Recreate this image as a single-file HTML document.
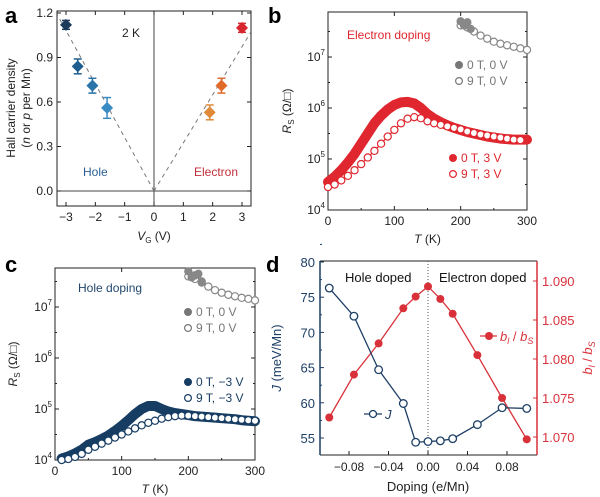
<!DOCTYPE html>
<html><head><meta charset="utf-8"><style>
body{margin:0;background:#fff}
svg{display:block;font-family:"Liberation Sans",sans-serif}
</style></head><body>
<svg id="fig" width="600" height="497" viewBox="0 0 600 497"></svg>
<script>
// ---- panel a data ----
const aVg=[-3,-2.6,-2.1,-1.6,1.9,2.3,3];
const aDens=[1.12,0.84,0.71,0.56,0.53,0.71,1.10];
const aErr=[0.03,0.05,0.05,0.07,0.05,0.05,0.03];
const aColors=['#1b3a5c','#1f5d8e','#2a74aa','#3a8ac4','#e08a3a','#e06a2a','#d8262e'];
const aTicksX=[-3,-2,-1,0,1,2,3];
const aTicksY=[0,0.3,0.6,0.9,1.2];
// ---- panel b data ----
const bT=[0,10,20,30,40,50,60,70,80,90,100,110,120,130,140,150,160,170,180,190,200,210,220,230,240,250,260,270,280,290,300];
const bFilled=[4.55,4.65,4.78,4.93,5.1,5.3,5.5,5.7,5.85,5.97,6.06,6.11,6.12,6.09,6.0,5.88,5.79,5.72,5.66,5.61,5.57,5.53,5.5,5.47,5.44,5.42,5.4,5.39,5.38,5.38,5.38];
const bOpenT=[0,10,20,30,40,50,60,70,80,90,100,110,120,130,140,150,160,170,180,190,200,210,220,230,240,250,260,270,280,290];
const bOpen=[4.45,4.5,4.58,4.67,4.78,4.9,5.03,5.16,5.3,5.44,5.57,5.7,5.79,5.82,5.8,5.74,5.7,5.67,5.64,5.61,5.58,5.54,5.51,5.48,5.46,5.44,5.42,5.4,5.38,5.37];
const bGreyT=[200,210,220,230,240,250,260,270,280,290,300];
const bGreyOpen=[7.62,7.58,7.5,7.42,7.36,7.3,7.26,7.23,7.2,7.17,7.14];
const bGreyFT=[200,205,210,215];
const bGreyFilled=[7.7,7.62,7.68,7.55];
// ---- panel c data ----
const cT=[10,20,30,40,50,60,70,80,90,100,110,120,130,140,150,160,170,180,190,200,210,220,230,240,250,260,270,280,290,300];
const cFilled=[4.03,4.07,4.13,4.2,4.3,4.35,4.41,4.48,4.57,4.67,4.78,4.9,5.0,5.06,5.06,5.0,4.95,4.92,4.9,4.88,4.86,4.85,4.84,4.83,4.82,4.81,4.8,4.78,4.77,4.76];
const cOpen=[4.0,4.02,4.06,4.12,4.2,4.26,4.32,4.38,4.44,4.5,4.56,4.62,4.68,4.73,4.77,4.81,4.84,4.86,4.87,4.87,4.86,4.85,4.84,4.83,4.82,4.81,4.8,4.79,4.78,4.77];
const cGreyT=[200,210,220,230,240,250,260,270,280,290,300];
const cGreyOpen=[7.6,7.55,7.48,7.4,7.33,7.28,7.24,7.21,7.18,7.16,7.13];
const cGreyFT=[200,205,210,215,220];
const cGreyFilled=[7.7,7.58,7.62,7.65,7.5];
// ---- panel d data ----
const dDoping=[-0.1,-0.075,-0.05,-0.025,-0.0125,0,0.0125,0.025,0.05,0.075,0.1];
const dJ=[76.3,72.3,64.7,59.9,54.4,54.5,54.6,54.9,56.9,59.3,59.2];
const dB=[1.0725,1.078,1.082,1.0865,1.088,1.0893,1.0877,1.0858,1.0805,1.075,1.0697];
const dTicksX=[-0.08,-0.04,0,0.04,0.08];
const dTicksJ=[55,60,65,70,75,80];
const dTicksB=[1.070,1.075,1.080,1.085,1.090];

const S=document.getElementById('fig');
const NS='http://www.w3.org/2000/svg';
function mk(tag,at,parent){const e=document.createElementNS(NS,tag);for(const k in at)e.setAttribute(k,at[k]);(parent||S).appendChild(e);return e;}
function txt(x,y,s,at){const e=mk('text',Object.assign({x:x,y:y,'font-size':12,fill:'#222'},at||{}));e.textContent=s;return e;}
function lin(d0,d1,r0,r1){return v=>r0+(v-d0)*(r1-r0)/(d1-d0);}

// ================= Panel a =================
{
const L=57,R=251,T=11,B=206;
const x=lin(0,3,154,242), y=lin(0,1.2,191,13);
let e=txt(5,23,'a',{'font-size':22,'font-weight':'bold',fill:'#000'});

e=mk('rect',{x:L,y:T,width:R-L,height:B-T,fill:'none',stroke:'#222','stroke-width':1});

mk('line',{x1:L,x2:R,y1:y(0),y2:y(0),stroke:'#444','stroke-width':1});
mk('line',{x1:x(0),x2:x(0),y1:T,y2:B,stroke:'#444','stroke-width':1});
mk('line',{x1:x(0),y1:y(0),x2:x(-3.3),y2:y(1.19),stroke:'#777','stroke-dasharray':'4,4'});
mk('line',{x1:x(0),y1:y(0),x2:x(3.3),y2:y(1.07),stroke:'#777','stroke-dasharray':'4,4'});
aTicksX.forEach(v=>{mk('line',{x1:x(v),x2:x(v),y1:B,y2:B-4,stroke:'#222'});mk('line',{x1:x(v),x2:x(v),y1:T,y2:T+4,stroke:'#222'});
 const t=txt(x(v),221,(v<0?'\u2212':'')+Math.abs(v),{'text-anchor':'middle'});});
aTicksY.forEach(v=>{mk('line',{x1:L,x2:L+4,y1:y(v),y2:y(v),stroke:'#222'});mk('line',{x1:R,x2:R-4,y1:y(v),y2:y(v),stroke:'#222'});
 const t=txt(L-4,y(v)+4,v.toFixed(1),{'text-anchor':'end'});});
aVg.forEach((v,i)=>{const cx=x(v),cy=y(aDens[i]),c=aColors[i];
 mk('line',{x1:cx,x2:cx,y1:y(aDens[i]-aErr[i]),y2:y(aDens[i]+aErr[i]),stroke:c,'stroke-width':1.5});
 mk('line',{x1:cx-4,x2:cx+4,y1:y(aDens[i]-aErr[i]),y2:y(aDens[i]-aErr[i]),stroke:c,'stroke-width':1.5});
 mk('line',{x1:cx-4,x2:cx+4,y1:y(aDens[i]+aErr[i]),y2:y(aDens[i]+aErr[i]),stroke:c,'stroke-width':1.5});
 const p=mk('polygon',{points:`${cx},${cy-6} ${cx+6},${cy} ${cx},${cy+6} ${cx-6},${cy}`,fill:c});
 });
txt(122,37,'2 K',{'font-size':12});
txt(83,176,'Hole',{fill:'#2a5f94','font-size':12});
txt(194,176,'Electron',{fill:'#c0303a','font-size':12});
e=txt(154,240,'',{'text-anchor':'middle'});e.innerHTML='<tspan font-style="italic">V</tspan><tspan font-size="8" dy="3">G</tspan><tspan dy="-3"> (V)</tspan>';

e=txt(0,0,'Hall carrier density',{transform:'translate(15,108) rotate(-90)','text-anchor':'middle'});

e=txt(0,0,'',{transform:'translate(30,108) rotate(-90)','text-anchor':'middle'});e.innerHTML='(<tspan font-style="italic">n</tspan> or <tspan font-style="italic">p</tspan> per Mn)';
}

// ================= log R panels =================
function logPanel(o){
 const x=lin(0,300,o.L,o.R), y=v=>o.b4-(v-4)*51;
 let e=txt(o.lx,o.ly,o.label,{'font-size':22,'font-weight':'bold',fill:'#000'});
 
 e=mk('rect',{x:o.L,y:o.T,width:o.R-o.L,height:o.b4-o.T,fill:'none',stroke:'#222'});
 
 [0,100,200,300].forEach(v=>{mk('line',{x1:x(v),x2:x(v),y1:o.b4,y2:o.b4-4,stroke:'#222'});mk('line',{x1:x(v),x2:x(v),y1:o.T,y2:o.T+4,stroke:'#222'});
  const t=txt(x(v),o.b4+15,String(v),{'text-anchor':'middle'});});
 [50,150,250].forEach(v=>{mk('line',{x1:x(v),x2:x(v),y1:o.b4,y2:o.b4-2,stroke:'#222'});});
 [4,5,6,7].forEach(v=>{mk('line',{x1:o.L,x2:o.L+4,y1:y(v),y2:y(v),stroke:'#222'});mk('line',{x1:o.R,x2:o.R-4,y1:y(v),y2:y(v),stroke:'#222'});
  mk('line',{x1:o.L,x2:o.L+2,y1:y(v+0.5),y2:y(v+0.5),stroke:'#222'});mk('line',{x1:o.R,x2:o.R-2,y1:y(v+0.5),y2:y(v+0.5),stroke:'#222'});
  const t=txt(o.L-3,y(v)+4,'',{'text-anchor':'end'});t.innerHTML='10<tspan font-size="8" dy="-6">'+v+'</tspan>';
  });
 e=txt((o.L+o.R)/2,o.b4+33,'',{'text-anchor':'middle'});e.innerHTML='<tspan font-style="italic">T</tspan> (K)';
 
 e=txt(0,0,'',{transform:`translate(${o.ylx},${(o.T+o.b4)/2}) rotate(-90)`,'text-anchor':'middle'});
 e.innerHTML='<tspan font-style="italic">R</tspan><tspan font-size="8" dy="3">S</tspan><tspan dy="-3"> (Ω/□)</tspan>';
 
 const g=mk('g',{});
 o.series.forEach(s=>{
  if(s.filled){const pts=s.t.map((t,i)=>x(t)+','+y(s.v[i])).join(' ');
   const pl=mk('polyline',{points:pts,fill:'none',stroke:s.c,'stroke-width':s.w||10,'stroke-linejoin':'round','stroke-linecap':'round'},g);
   }
  else{const pts=s.t.map((t,i)=>x(t)+','+y(s.v[i])).join(' ');
   const pl=mk('polyline',{points:pts,fill:'none',stroke:s.c,'stroke-width':1.2},g);
   }
  s.t.forEach((t,i)=>{const c=mk('circle',{cx:x(t),cy:y(s.v[i]),r:3.6,fill:s.filled?s.c:'#fff',stroke:s.c,'stroke-width':1.2},g);
   });
 });
 o.legend.forEach(l=>{mk('circle',{cx:l.x,cy:l.y-4,r:3.4,fill:l.f?l.c:'#fff',stroke:l.c,'stroke-width':1.2});
  const t=txt(l.x+8,l.y,l.s,{fill:l.c});});
 e=txt(o.tx,o.ty,o.title,{fill:o.tc});
}
logPanel({label:'b',lx:268,ly:23,L:328,R:527,T:12,b4:210,ylx:291,
 series:[{t:bGreyT,v:bGreyOpen,c:'#888',name:'b-9T-0V'},{t:bGreyFT,v:bGreyFilled,c:'#888',filled:true,w:2,name:'b-0T-0V'},
  {t:bT,v:bFilled,c:'#e0262e',filled:true,name:'b-0T-3V'},{t:bOpenT,v:bOpen,c:'#e0262e',name:'b-9T-3V'}],
 legend:[{x:459,y:69,s:'0 T, 0 V',c:'#777',f:true},{x:459,y:85,s:'9 T, 0 V',c:'#777'},
  {x:453,y:162,s:'0 T, 3 V',c:'#e0262e',f:true},{x:453,y:178,s:'9 T, 3 V',c:'#e0262e'}],
 title:'Electron doping',tx:347,ty:39,tc:'#e0262e'});
logPanel({label:'c',lx:5,ly:272,L:55,R:255,T:268,b4:460,ylx:17,
 series:[{t:cGreyT,v:cGreyOpen,c:'#888',name:'c-9T-0V'},{t:cGreyFT,v:cGreyFilled,c:'#888',filled:true,w:2,name:'c-0T-0V'},
  {t:cT,v:cFilled,c:'#173d63',filled:true,name:'c-0T-m3V'},{t:cT,v:cOpen,c:'#173d63',name:'c-9T-m3V'}],
 legend:[{x:188,y:316,s:'0 T, 0 V',c:'#777',f:true},{x:188,y:332,s:'9 T, 0 V',c:'#777'},
  {x:188,y:386,s:'0 T, \u22123 V',c:'#173d63',f:true},{x:188,y:402,s:'9 T, \u22123 V',c:'#173d63'}],
 title:'Hole doping',tx:78,ty:292,tc:'#23476e'});

// ================= Panel d =================
{
const L=320,R=537,T=261,B=455, navy='#1d3f66', red='#d9313a';
const x=lin(0,0.08,428,507), yJ=lin(55,80,438,262), yB=lin(1.07,1.09,437,281);
let e=txt(266,272,'d',{'font-size':22,'font-weight':'bold',fill:'#000'});

mk('line',{x1:L,x2:R,y1:B,y2:B,stroke:'#222'});
mk('line',{x1:L,x2:R,y1:T,y2:T,stroke:'#222'});
e=mk('line',{x1:L,x2:L,y1:T,y2:B,stroke:navy,'stroke-width':1.5});
e=mk('line',{x1:R,x2:R,y1:T,y2:B,stroke:red,'stroke-width':1.5});
mk('line',{x1:x(0),x2:x(0),y1:T,y2:B,stroke:'#555','stroke-dasharray':'1,2'});
dTicksX.forEach(v=>{mk('line',{x1:x(v),x2:x(v),y1:B,y2:B-4,stroke:'#222'});
 const t=txt(x(v),B+16,(v<0?'\u2212':'')+Math.abs(v).toFixed(2),{'text-anchor':'middle'});});
dTicksJ.forEach(v=>{mk('line',{x1:L,x2:L+4,y1:yJ(v),y2:yJ(v),stroke:navy});mk('line',{x1:L,x2:L+2,y1:yJ(v+2.5),y2:yJ(v+2.5),stroke:navy});
 const t=txt(L-5,yJ(v)+5,String(v),{'text-anchor':'end',fill:navy,'font-size':13});});
dTicksB.forEach(v=>{mk('line',{x1:R,x2:R-4,y1:yB(v),y2:yB(v),stroke:red});
 const t=txt(R+5,yB(v)+5,v.toFixed(3),{fill:red,'font-size':13});});
e=mk('polyline',{points:dDoping.map((d,i)=>x(d)+','+yB(dB[i])).join(' '),fill:'none',stroke:red,'stroke-width':1.3});

e=mk('polyline',{points:dDoping.map((d,i)=>x(d)+','+yJ(dJ[i])).join(' '),fill:'none',stroke:navy,'stroke-width':1.3});

dDoping.forEach((d,i)=>{const c=mk('circle',{cx:x(d),cy:yB(dB[i]),r:4,fill:red});});
dDoping.forEach((d,i)=>{const c=mk('circle',{cx:x(d),cy:yJ(dJ[i]),r:3.8,fill:'#fff',stroke:navy,'stroke-width':1.3});});
txt(345,282,'Hole doped',{'font-size':13,fill:'#111'});
txt(439,282,'Electron doped',{'font-size':13,fill:'#111'});
mk('line',{x1:364,x2:382,y1:414,y2:414,stroke:navy,'stroke-width':1.3});mk('circle',{cx:373,cy:414,r:3.5,fill:'#fff',stroke:navy,'stroke-width':1.3});
e=txt(385,419,'J',{'font-style':'italic',fill:navy,'font-size':13});
mk('line',{x1:480,x2:497,y1:336,y2:336,stroke:red,'stroke-width':1.3});mk('circle',{cx:489,cy:336,r:4,fill:red});
e=txt(500,341,'',{fill:red,'font-size':13});e.innerHTML='<tspan font-style="italic">b</tspan><tspan font-size="9" dy="3" font-style="italic">l</tspan><tspan dy="-3"> / </tspan><tspan font-style="italic">b</tspan><tspan font-size="9" dy="3" font-style="italic">S</tspan>';

e=txt(0,0,'',{transform:'translate(281,358) rotate(-90)','text-anchor':'middle',fill:navy,'font-size':13});e.innerHTML='<tspan font-style="italic">J</tspan> (meV/Mn)';

e=txt(0,0,'',{transform:'translate(592,358) rotate(-90)','text-anchor':'middle',fill:red,'font-size':13});e.innerHTML='<tspan font-style="italic">b</tspan><tspan font-size="9" dy="3" font-style="italic">l</tspan><tspan dy="-3"> / </tspan><tspan font-style="italic">b</tspan><tspan font-size="9" dy="3" font-style="italic">S</tspan>';

e=txt(428,491,'Doping (e/Mn)',{'text-anchor':'middle','font-size':13});

}
</script>
</body></html>
